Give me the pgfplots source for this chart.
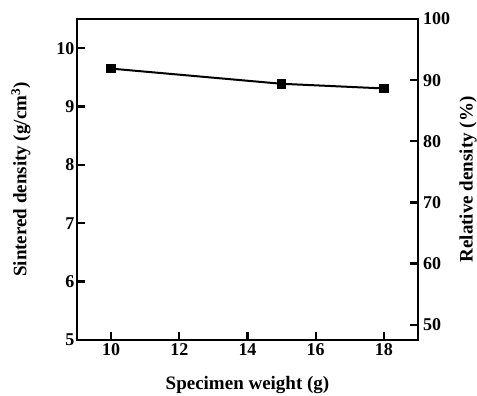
\documentclass[border=0pt]{standalone}
\usepackage{fontspec}
\setmainfont{Liberation Serif}
\usepackage{pgfplots}
\pgfplotsset{compat=1.18}
\begin{document}
\begin{tikzpicture}
\pgfplotsset{
  common/.style={
    scale only axis, width=341pt, height=321pt,
    xmin=9, xmax=19,
    tick align=inside,
    major tick length=8pt,
    axis line style={line width=2.8pt},
    every tick/.style={line width=2.4pt, black},
    font=\fontsize{18}{21}\selectfont\bfseries,
    label style={font=\fontsize{19}{22}\selectfont\bfseries},
    /pgf/number format/assume math mode=true,
  }
}
\begin{axis}[common,
  ymin=5, ymax=10.5,
  xtick={10,12,...,18}, ytick={5,6,...,10},
  xtick pos=bottom, ytick pos=left,
  yticklabel style={xshift=1pt},
  xlabel={Specimen weight (g)},
  ylabel={Sintered density (g/cm$^{\mathbf{3}}$)},
  xlabel style={at={(rel axis cs:0.5,0)}, anchor=center, yshift=-45pt},
  ylabel style={at={(rel axis cs:0,0.5)}, anchor=center, yshift=56pt},
]
\coordinate (bl) at (rel axis cs:0,0);
\coordinate (tr) at (rel axis cs:1,1);
\addplot[black, line width=2pt, mark=square*, mark size=3.8pt] coordinates {
  (10,9.65) (15,9.39) (18,9.31)
};
\end{axis}
\begin{axis}[common,
  ymin=47.5, ymax=100,
  ytick={50,60,...,100},
  axis x line=none, axis y line*=right,
  ytick pos=right, yticklabel pos=right,
  yticklabel style={xshift=1.5pt},
  ylabel={Relative density (\%)},
  ylabel style={at={(rel axis cs:1,0.5)}, anchor=center, rotate=0, yshift=-50pt},
]
\end{axis}
\pgfresetboundingbox
\path ([xshift=-77pt,yshift=-56pt]bl) rectangle ([xshift=59pt,yshift=19pt]tr);
\end{tikzpicture}
\end{document}
